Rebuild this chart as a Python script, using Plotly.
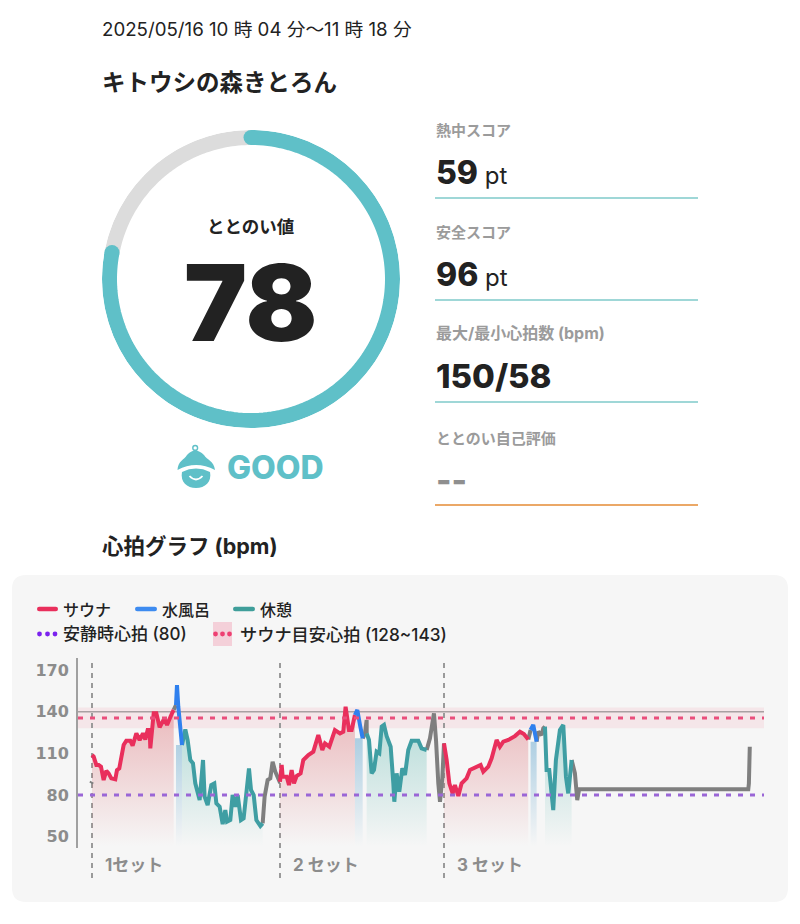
import numpy as np
import plotly.graph_objects as go

W, H = 800, 924
FONT = 'Inter, "Noto Sans CJK JP", sans-serif'
CJK = '"Noto Sans CJK JP", sans-serif'
WIDE = '"DejaVu Sans", "Noto Sans CJK JP", sans-serif'

# ---- data ----
score = 78
rest_hr = 80
guide_low, guide_high = 128, 143
guide_mid = 135.5
max_ref = 140
y_ticks = [170, 140, 110, 80, 50]
set_starts = [0, 21.15, 39.6]
set_labels = ["1セット", "2 セット", "3 セット"]

sauna_t = [
    [0.0,0.19,0.49,0.75,1.01,1.31,1.61,1.87,2.17,2.62,2.81,3.07,3.56,3.86,4.31,4.57,4.99,5.36,5.74,6.0,6.26,6.49,6.56,6.94,7.24,7.61,8.14,8.44,9.0,9.19],
    [21.15,21.34,21.45,21.9,22.16,22.46,22.72,23.02,23.47,23.77,24.34,24.9,25.46,25.91,26.21,26.7,27.33,27.9,28.27,28.53,28.91,29.21,29.58],
    [39.6,39.9,40.2,40.57,40.83,41.21,41.58,42.14,42.52,43.27,43.72,44.02,44.58,44.96,45.52,45.89,46.27,46.83,47.2,47.58,48.14,48.59,49.08],
]
sauna_hr = [
    [108.8,107.6,101.6,101.6,100.4,90.8,97.5,95.6,92.0,91.3,98.0,99.2,116.0,119.1,119.1,115.5,124.4,119.6,124.4,120.0,126.8,126.8,113.6,138.8,138.8,128.7,135.2,130.4,138.8,141.2],
    [89.6,101.6,93.2,93.2,87.2,98,88.4,93.7,95.6,105.2,108.8,111.2,123.2,112.4,117.2,114.8,126.8,124.4,125.6,143.5,126.8,126.8,137.6],
    [117.2,105.2,88.4,81.2,87.2,79.3,88.4,92,98,100.4,101.6,96.8,100.4,106.4,119.6,114.8,118.4,119.6,120.8,122.4,125.6,123.9,120],
]
cold_t = [
    [9.45,9.56,9.71,9.94,10.12],
    [29.58,29.85,30.15,30.45],
    [49.34,49.64,50.02],
]
cold_hr = [
    [144.7,159.1,143.5,124.4,116.0],
    [137.6,141.2,130.4,120.8],
    [126.8,130.4,118.4],
]
rest_t = [
    [10.12,10.5,10.76,11.06,11.36,11.62,12.11,12.49,12.67,13.01,13.42,13.76,13.99,14.36,14.7,15.0,15.19,15.56,15.82,16.12,16.39,16.76,17.06,17.44,17.66,17.89,18.19,18.49,18.94,19.2],
    [30.9,31.16,31.46,31.72,32.02,32.32,32.59,32.85,33.15,33.6,33.9,34.01,34.27,34.57,34.91,35.21,35.58,35.96,36.71,37.08,37.65],
    [50.96,51.14,51.44,51.89,52.19,52.64,53.02,53.32,53.58,53.96],
]
rest_hr_vals = [
    [116,127.2,119.6,105.2,102.8,88.4,76.4,105.2,78.8,72.8,87.2,88.4,74.0,71.6,59.1,69.2,60.8,62.0,80,71.6,80,62,63.2,89.6,99.2,83.6,80,62,57.7,59.6],
    [124.4,119.6,95.6,98,111.2,110,129.2,130.4,122.4,114.8,88.4,75.2,95.6,82.4,99.2,94.4,112.4,119.1,119.1,113.6,112.4],
    [129.2,98,98,69.2,105.2,126.8,130.4,93.2,81.2,105.2],
]
other_t = [
    [-0.1,0.0],
    [9.19,9.45],
    [19.2,19.42,19.76,20.06,20.32,20.62,21.11,21.15],
    [30.45,30.71,30.9,30.9],
    [37.65,38.02,38.47,38.7,38.96,39.15,39.41,39.6],
    [49.08,49.34],
    [50.02,50.21,50.58,50.77,50.96],
    [53.96,54.33,54.59,54.71,54.8,73.83,73.9,74.0],
]
other_hr = [
    [88.4,89.6],
    [141.2,144.7],
    [59.6,78.8,90.8,92,104,96.8,89.6,89.6],
    [120.8,124.4,134,124.4],
    [112.4,120.8,138.8,119.6,88.4,75.2,92,117.2],
    [120,126.8],
    [118.4,125.6,123.2,128,129.2],
    [105.2,95.6,76.4,83.6,84.1,84.1,88.4,114.8],
]

# ---- colours ----
C_RING = "#5fc0c8"
C_RED = "#e92f5c"
C_BLUE = "#2f80ee"
C_TEAL = "#3f9ea3"
C_GRAY = "#7f7f7f"
C_LABEL = "#9b9b9b"
C_TEXT = "#222222"
C_TICK = "#8c8c8c"
C_PANEL = "#f6f6f6"


def px(x):
    return x / W


def py(y):
    return 1 - y / H


def path(*parts):
    """Build a paper-space SVG path from pixel-space commands."""
    out = []
    for p in parts:
        if isinstance(p, str):
            out.append(p)
        else:
            out.append(f"{px(p[0]):.5f},{py(p[1]):.5f}")
    return " ".join(out)


def paper(**k):
    return dict(xref="paper", yref="paper", **k)


def rect(x0, y0, x1, y1, color, layer="below"):
    return paper(type="rect", x0=px(x0), x1=px(x1), y0=py(y0), y1=py(y1),
                 fillcolor=color, line_width=0, layer=layer)


def hline(x0, x1, y, color, width):
    return paper(type="line", x0=px(x0), x1=px(x1), y0=py(y), y1=py(y),
                 line=dict(color=color, width=width), layer="above")


def circle(cx, cy, r, color, layer="above"):
    return paper(type="circle", x0=px(cx - r), x1=px(cx + r), y0=py(cy - r), y1=py(cy + r),
                 fillcolor=color, line_width=0, layer=layer)


def pill(x0, x1, y, h, color):
    r = h / 2
    d = path("M", (x0 + r, y - r), "L", (x1 - r, y - r), "Q", (x1, y - r), (x1, y), "Q", (x1, y + r), (x1 - r, y + r),
             "L", (x0 + r, y + r), "Q", (x0, y + r), (x0, y), "Q", (x0, y - r), (x0 + r, y - r), "Z")
    return paper(type="path", path=d, fillcolor=color, line_width=0, layer="above")


def rounded_panel(x0, y0, x1, y1, r, color):
    d = path("M", (x0 + r, y0), "L", (x1 - r, y0), "Q", (x1, y0), (x1, y0 + r), "L", (x1, y1 - r), "Q", (x1, y1), (x1 - r, y1),
             "L", (x0 + r, y1), "Q", (x0, y1), (x0, y1 - r), "L", (x0, y0 + r), "Q", (x0, y0), (x0 + r, y0), "Z")
    return paper(type="path", path=d, fillcolor=color, line_width=0, layer="below")


def text(x, y, s, size, color=C_TEXT, weight=400, anchor="left", family=FONT):
    dx = -2 if anchor == "left" else 0
    return paper(x=px(x + dx), y=py(y), text=s, showarrow=False, xanchor=anchor, yanchor="middle",
                 font=dict(size=size, color=color, family=family, weight=weight), align="left")


fig = go.Figure()

# ---- ring ----
ring_r = 1.0
done = np.linspace(0, 360 * score / 100, 160)
todo = np.linspace(360 * score / 100, 360, 60)
ringkw = dict(mode="lines", subplot="polar", hoverinfo="skip", showlegend=False)
fig.add_trace(go.Scatterpolar(r=np.full(todo.size, ring_r), theta=todo, line=dict(color="#dcdcdc", width=15), **ringkw))
fig.add_trace(go.Scatterpolar(r=np.full(done.size, ring_r), theta=done, line=dict(color=C_RING, width=15), **ringkw))
fig.add_trace(go.Scatterpolar(r=[ring_r, ring_r], theta=[done[0], done[-1]], mode="markers", subplot="polar",
                              marker=dict(color=C_RING, size=15), hoverinfo="skip", showlegend=False))

# ---- heart-rate ----
base = dict(hoverinfo="skip", showlegend=False)


def add_fill(t, v, start, stop, rgb, alpha):
    fig.add_trace(go.Scatter(x=t, y=v, mode="none", fill="tozeroy",
                             fillgradient=dict(type="vertical", start=start, stop=stop,
                                               colorscale=[[0, f"rgba({rgb},0)"], [1, f"rgba({rgb},{alpha})"]]),
                             **base))


for t, v in zip(sauna_t, sauna_hr):
    add_fill(t, v, 43, 140, "214,80,88", 0.36)
for t, v in zip(rest_t, rest_hr_vals):
    add_fill(t, v, 43, 125, "70,175,165", 0.33)
for t, v in zip(cold_t, cold_hr):
    add_fill(t, np.minimum(v, v[-1]), 43, 125, "60,145,195", 0.42)

LW = 4
for t, v in zip(other_t, other_hr):
    fig.add_trace(go.Scatter(x=t, y=v, mode="lines", line=dict(color=C_GRAY, width=LW), **base))
for t, v in zip(rest_t, rest_hr_vals):
    fig.add_trace(go.Scatter(x=t, y=v, mode="lines", line=dict(color=C_TEAL, width=LW), **base))
for t, v in zip(sauna_t, sauna_hr):
    fig.add_trace(go.Scatter(x=t, y=v, mode="lines", line=dict(color=C_RED, width=LW), **base))
for t, v in zip(cold_t, cold_hr):
    fig.add_trace(go.Scatter(x=t, y=v, mode="lines", line=dict(color=C_BLUE, width=LW), **base))

# ---- shapes ----
shapes = [rounded_panel(12, 575, 788, 902, 14, C_PANEL)]
shapes += [
    dict(type="rect", xref="x domain", yref="y", x0=0, x1=1, y0=guide_low, y1=guide_high,
         fillcolor="rgba(238,120,150,0.13)", line_width=0, layer="below"),
    dict(type="line", xref="x domain", yref="y", x0=0, x1=1, y0=max_ref, y1=max_ref,
         line=dict(color="#a8a0a2", width=1.5), layer="below"),
    dict(type="line", xref="x domain", yref="y", x0=0, x1=1, y0=guide_mid, y1=guide_mid,
         line=dict(color="#ea4f7c", width=3, dash="5px,7px"), layer="above"),
    dict(type="line", xref="x domain", yref="y", x0=0, x1=1, y0=rest_hr, y1=rest_hr,
         line=dict(color="#9a66d6", width=3, dash="5px,7px"), layer="above"),
]
for s in set_starts:
    shapes.append(dict(type="line", xref="x", yref="paper", x0=s, x1=s, y0=py(878), y1=py(658),
                       line=dict(color="#9a9a9a", width=2, dash="5px,5px"), layer="below"))

# rule lines of the score list
for y in (198, 300, 402):
    shapes.append(hline(435, 698, y, "#7fcaca", 1.5))
shapes.append(hline(435, 698, 505, "#e58b35", 1.5))

# legend glyphs
shapes += [pill(37, 58, 609, 4.5, C_RED), pill(135, 157, 609, 4.5, "#3d8bf0"), pill(233, 255, 609, 4.5, "#3f9e9a")]
for cx in (39.5, 47.5, 55):
    shapes.append(circle(cx, 634, 2.4, "#7b22ee"))
shapes.append(rect(213, 622, 232, 646, "rgba(238,120,150,0.3)"))
for cx in (215.5, 222.5, 229.5):
    shapes.append(circle(cx, 634, 2.4, "#ee3f72"))

# mascot icon
shapes += [
    paper(type="circle", x0=px(192.8), x1=px(197.6), y0=py(445.5), y1=py(450.3), fillcolor="white",
          line=dict(color=C_RING, width=1.4), layer="above"),
    paper(type="path", layer="above", line_width=0, fillcolor=C_RING,
          path=path("M", (177.5, 470), "C", (178, 461), (184, 460), (187, 455), "Q", (195, 446), (204, 455), "C", (207, 460), (214, 461), (215, 470),
                    "Q", (196, 460), (177.5, 470), "Z")),
    paper(type="path", layer="above", line_width=0, fillcolor=C_RING,
          path=path("M", (182, 472), "Q", (196, 465), (210, 472), "C", (212, 482), (205, 488), (196, 488), "C", (187, 488), (180, 482), (182, 472), "Z")),
    paper(type="path", layer="above", fillcolor="rgba(0,0,0,0)", line=dict(color="white", width=1.8),
          path=path("M", (189.5, 476), "Q", (196, 483), (202.5, 476))),
]

# ---- text ----
anns = [
    text(102, 30, "2025/05/16 10 時 04 分〜11 時 18 分", 18.7, weight=400),
    text(102, 81, "キトウシの森きとろん", 23.5, weight=700, family=CJK),
    text(251, 225.5, "ととのい値", 17.5, weight=700, anchor="center", family=CJK),
    text(250, 302, "78", 106, weight=900, anchor="center"),
    text(227, 467, "GOOD", 32, C_RING, weight=800),
    text(102, 546, "心拍グラフ (bpm)", 21.5, weight=700),
    text(436, 129, "熱中スコア", 15, C_LABEL, 700, family=CJK),
    text(436, 172, '<span style="font-size:32px;font-weight:800">59</span><span style="font-size:24px;font-weight:400"> pt</span>', 32),
    text(436, 231, "安全スコア", 15, C_LABEL, 700, family=CJK),
    text(436, 274, '<span style="font-size:32px;font-weight:800">96</span><span style="font-size:24px;font-weight:400"> pt</span>', 32),
    text(436, 333, "最大/最小心拍数 (bpm)", 16, C_LABEL, 700),
    text(436, 376, "150/58", 33, weight=800),
    text(436, 437, "ととのい自己評価", 15, C_LABEL, 700, family=CJK),
    text(436, 480, "--", 33, "#8f8f8f", 800),
    text(63, 609, "サウナ", 16, weight=500, family=CJK),
    text(162, 609, "水風呂", 16, weight=500, family=CJK),
    text(260, 609, "休憩", 16, weight=500, family=CJK),
    text(63, 634, "安静時心拍 (80)", 17, weight=500),
    text(240, 634, "サウナ目安心拍 (128~143)", 17.2, weight=500),
]
for s, lab in zip(set_starts, set_labels):
    anns.append(dict(x=s, xref="x", y=py(865), yref="paper", text=lab, showarrow=False, xanchor="left", yanchor="middle",
                     xshift=11, font=dict(size=17, color=C_TICK, family=FONT, weight=700)))

# ---- layout ----
fig.update_layout(
    width=W, height=H, autosize=False, margin=dict(l=0, r=0, t=0, b=0),
    paper_bgcolor="white", plot_bgcolor="rgba(0,0,0,0)", showlegend=False,
    shapes=shapes, annotations=anns,
    polar=dict(
        domain=dict(x=[px(102), px(400)], y=[py(428), py(130)]),
        bgcolor="rgba(0,0,0,0)",
        radialaxis=dict(visible=False, range=[0, 149 / 141.5]),
        angularaxis=dict(visible=False, direction="clockwise", rotation=90),
    ),
    xaxis=dict(domain=[px(78), px(764)], range=[-1.575, 75.6], visible=False, fixedrange=True),
    yaxis=dict(domain=[py(848), py(658)], range=[41.9, 178.6], tickvals=y_ticks, showgrid=False, zeroline=False,
               showline=True, linecolor="#a0a0a0", linewidth=2, ticks="outside", ticklen=4, tickcolor="rgba(0,0,0,0)",
               tickfont=dict(size=16, color=C_TICK, family=WIDE, weight=700), fixedrange=True),
)

fig.write_html("out.html", config=dict(displayModeBar=False),
               post_script="document.body.style.margin='0';document.documentElement.style.overflow='hidden';")
